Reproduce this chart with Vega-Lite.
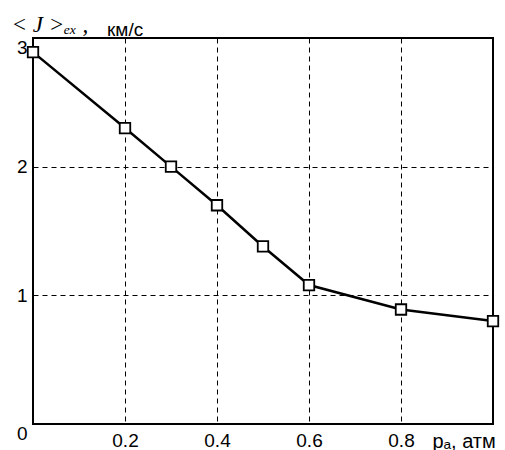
{
  "$schema": "https://vega.github.io/schema/vega-lite/v6.json",
  "width": 460,
  "height": 386,
  "autosize": {"type": "none"},
  "padding": {"left": 33, "top": 38, "right": 12, "bottom": 26},
  "background": "white",
  "config": {
    "view": {"stroke": "black", "strokeWidth": 2},
    "font": "Liberation Sans"
  },
  "title": {
    "text": "км/с",
    "anchor": "start",
    "frame": "group",
    "dx": 74,
    "dy": 42,
    "offset": 0,
    "baseline": "alphabetic",
    "font": "Liberation Sans",
    "fontSize": 19,
    "fontWeight": "normal",
    "color": "black"
  },
  "data": {
    "values": [
      {"p": 0.0, "J": 2.89},
      {"p": 0.2, "J": 2.30},
      {"p": 0.3, "J": 2.00},
      {"p": 0.4, "J": 1.70},
      {"p": 0.5, "J": 1.38},
      {"p": 0.6, "J": 1.08},
      {"p": 0.8, "J": 0.89},
      {"p": 1.0, "J": 0.80}
    ]
  },
  "encoding": {
    "x": {
      "field": "p",
      "type": "quantitative",
      "scale": {"domain": [0, 1], "nice": false, "zero": false},
      "axis": {
        "values": [0.2, 0.4, 0.6, 0.8],
        "format": ".1f",
        "ticks": false,
        "domain": false,
        "grid": true,
        "gridColor": "black",
        "gridDash": [5, 4],
        "gridWidth": 1,
        "gridOpacity": 1,
        "labelFontSize": 19,
        "labelColor": "black",
        "labelPadding": 7,
        "labelFlush": false,
        "labelOverlap": false,
        "title": "pₐ, атм",
        "titleFontSize": 20,
        "titleFontWeight": "normal",
        "titleColor": "black",
        "titleAngle": 0,
        "titleAlign": "left",
        "titleBaseline": "top",
        "titleX": 399,
        "titleY": 7
      }
    },
    "y": {
      "field": "J",
      "type": "quantitative",
      "scale": {"domain": [0, 3], "nice": false},
      "axis": {
        "values": [0, 1, 2, 3],
        "labelExpr": "datum.value == 3 ? ['', '3'] : (datum.value == 0 ? ['', '', '', '0'] : datum.label)",
        "labelLineHeight": 9,
        "ticks": false,
        "domain": false,
        "grid": true,
        "gridColor": "black",
        "gridDash": [5, 4],
        "gridWidth": 1,
        "gridOpacity": 1,
        "labelFontSize": 19,
        "labelColor": "black",
        "labelPadding": 6,
        "labelOverlap": false,
        "labelFlush": false,
        "title": "< J >ₑₓ ,",
        "titleFont": "Liberation Serif",
        "titleFontStyle": "italic",
        "titleFontSize": 23,
        "titleFontWeight": "normal",
        "titleColor": "black",
        "titleAngle": 0,
        "titleAlign": "left",
        "titleBaseline": "alphabetic",
        "titleX": -22,
        "titleY": -7
      }
    }
  },
  "layer": [
    {
      "mark": {"type": "line", "color": "black", "strokeWidth": 2.5}
    },
    {
      "mark": {"type": "point", "shape": "square", "filled": true, "fill": "white", "stroke": "black", "strokeWidth": 1.8, "size": 110, "opacity": 1}
    }
  ]
}
